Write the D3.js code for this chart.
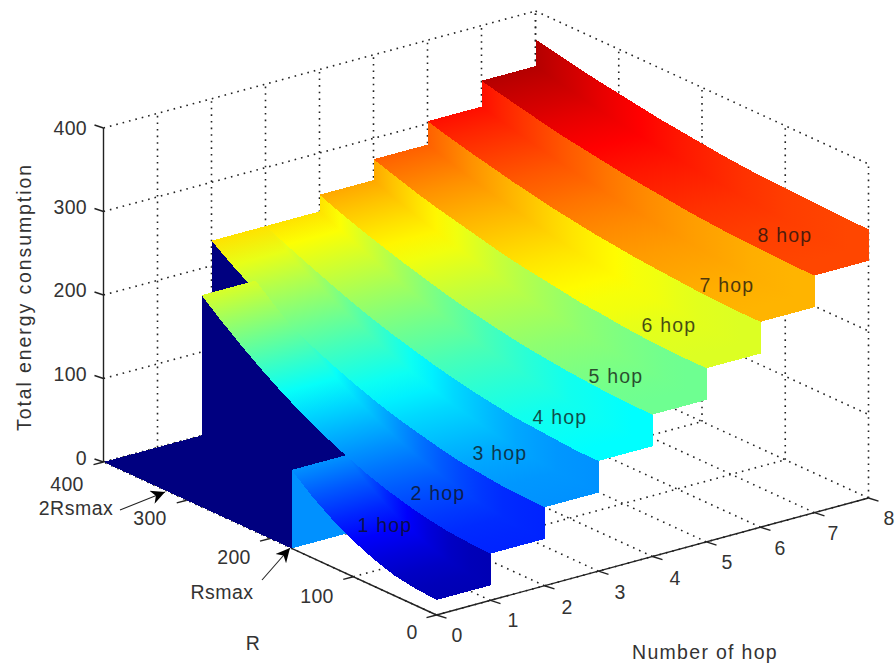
<!DOCTYPE html>
<html>
<head>
<meta charset="utf-8">
<script src="https://cdn.jsdelivr.net/npm/d3@7/dist/d3.min.js"></script>
<style>
html,body{margin:0;padding:0;background:#fff}
svg{display:block}
text{font-family:"Liberation Sans",Arial,sans-serif;font-size:19.5px;fill:#333}
</style>
</head>
<body>
<svg id="c" width="895" height="666"></svg>
<script>
// ---- data ----
const hopTicks = [0,1,2,3,4,5,6,7,8];
const rTicks = [0,100,200,300,400];
const zTicks = [0,100,200,300,400];
const zMaxColor = 352;
// R sample positions (174 = Rsmax and 347 = 2Rsmax are listed twice: the surface drops there)
const rGrid = [0,25,50,75,100,125,150,174,174,200,225,250,275,300,325,347,347,375,400];
const tier1 = [18,20,24,32,43,57,74,94,0,0,0,0,0,0,0,0,0,0,0];
const tier2 = [56,57,59,63,68.5,75.5,84,94,94,106,119,134,150.5,168.5,188,206.5,0,0,0];
const tier3 = [94,95,96,99,102,107,113,119,119,127,136,146,157,169,182,194,194,212,230];
const tier4 = [132,132,134,136,138,142,146,151,151,157,164,171,179,188,198,207,207,219,230];
const tier5 = [170,170,171,173,175,178,181,185,185,190,195,201,208,215,223,230,230,240,250];
const tier6 = [208,208,209,210,212,215,217,221,221,225,229,234,240,246,252,258,258,267,275];
const tier7 = [246,246,247,248,250,252,254,257,257,260,264,268,273,278,284,289,289,296,303];
const tier8 = [284,284,285,286,287,289,291,294,294,297,300,304,308,312,317,322,322,328,334];
const topEdge = [322,322,323,324,325,326,328,330,330,333,336,339,343,347,351,355,355,361,366];
const tiers = [tier1,tier2,tier3,tier4,tier5,tier6,tier7,tier8,topEdge];
const hopLabels = ["1 hop","2 hop","3 hop","4 hop","5 hop","6 hop","7 hop","8 hop"];

// ---- oblique projection built from linear scales ----
const hopX = d3.scaleLinear().domain([0,8]).range([0,432]);
const hopY = d3.scaleLinear().domain([0,8]).range([0,-117]);
const rX = d3.scaleLinear().domain([0,400]).range([0,-333]);
const rY = d3.scaleLinear().domain([0,400]).range([0,-153]);
const zY = d3.scaleLinear().domain([0,400]).range([0,-334]);
const ox = 436.5, oy = 615;
const P = (h,r,z)=>[ox+hopX(h)+rX(r), oy+hopY(h)+rY(r)+zY(z)];

function jet(v){
  v=Math.max(0,Math.min(1,v));
  const c=t=>Math.max(0,Math.min(1,t));
  const r=c(Math.min(4*v-1.5,-4*v+4.5));
  const g=c(Math.min(4*v-0.5,-4*v+3.5));
  const b=c(Math.min(4*v+0.5,-4*v+2.5));
  return d3.rgb(r*255,g*255,b*255).formatHex();
}
const svg=d3.select("#c");
const defs=svg.append("defs");
const line=d3.line();

// ---- dotted box grid ----
const gGrid=svg.append("g").attr("fill","none").attr("stroke","#222").attr("stroke-width",1.6).attr("stroke-dasharray","1.6 5");
const seg=(a,b)=>gGrid.append("path").attr("d",line([a,b]));
hopTicks.forEach(h=>{
  if(h>0) seg(P(h,400,0),P(h,400,400));   // back wall verticals
  seg(P(h,0,0),P(h,400,0));               // floor
});
rTicks.forEach(r=>{
  seg(P(8,r,0),P(8,r,400));               // right wall verticals
  seg(P(0,r,0),P(8,r,0));                 // floor
});
zTicks.forEach(z=>{
  if(z>0){ seg(P(0,400,z),P(8,400,z)); seg(P(8,400,z),P(8,0,z)); }
});

// ---- surface, painted from back to front ----
const gS=svg.append("g").attr("shape-rendering","crispEdges");
let gid=0;
function quad(pts,c0,c1){
  let fill=c0;
  if(c1 && c1!==c0){
    const [a,b,,d]=pts;
    const iso=[d[0]-a[0],d[1]-a[1]];
    const n=[-iso[1],iso[0]];
    const nn=n[0]*n[0]+n[1]*n[1];
    if(nn>1e-6){
      const t=((b[0]-a[0])*n[0]+(b[1]-a[1])*n[1])/nn;
      const id="g"+(gid++);
      const g=defs.append("linearGradient").attr("id",id).attr("gradientUnits","userSpaceOnUse")
        .attr("x1",a[0]).attr("y1",a[1]).attr("x2",a[0]+n[0]*t).attr("y2",a[1]+n[1]*t);
      g.append("stop").attr("offset",0).attr("stop-color",c0);
      g.append("stop").attr("offset",1).attr("stop-color",c1);
      fill="url(#"+id+")";
    }
  }
  gS.append("path").attr("d",line(pts)+"Z").attr("fill",fill);
}
for(let n=8;n>=1;n--){
  const low=tiers[n-1], high=tiers[n];
  for(let part=0;part<2;part++){
    for(let i=rGrid.length-2;i>=0;i--){
      const c0=jet(low[i]/zMaxColor);
      const c1=rGrid[i]===rGrid[i+1]?c0:jet(low[i+1]/zMaxColor);
      if(part===0) // step up at the far side of this tier
        quad([P(n,rGrid[i],low[i]),P(n,rGrid[i+1],low[i+1]),P(n,rGrid[i+1],high[i+1]),P(n,rGrid[i],high[i])],c0,c1);
      else         // the tier itself
        quad([P(n-1,rGrid[i],low[i]),P(n-1,rGrid[i+1],low[i+1]),P(n,rGrid[i+1],low[i+1]),P(n,rGrid[i],low[i])],c0,c1);
    }
  }
}

// ---- axes ----
const gA=svg.append("g").attr("fill","none").attr("stroke","#222").attr("stroke-width",1.4);
gA.append("path").attr("d",line([P(0,400,0),P(0,400,400)]));
gA.append("path").attr("d",line([P(0,0,0),P(8,0,0)]));
gA.append("path").attr("d",line([P(0,0,0),P(0,174,0)]));
zTicks.forEach(z=>{const p=P(0,400,z);gA.append("path").attr("d",line([p,[p[0]-9,p[1]-3]]));});
hopTicks.forEach(h=>{const p=P(h,0,0);gA.append("path").attr("d",line([p,[p[0]+10,p[1]+3.2]]));});
rTicks.forEach(r=>{const p=P(0,r,0);gA.append("path").attr("d",line([p,[p[0]-10,p[1]+2.6]]));});

// ---- tick labels ----
const T=(s,x,y,a="middle",sp=0.3)=>svg.append("text").attr("x",x).attr("y",y).attr("text-anchor",a).attr("dominant-baseline","central").style("letter-spacing",sp+"px").text(s);
const zLabelY=[458,374,290,207,128];
zTicks.forEach((z,i)=>T(z,87,zLabelY[i],"end"));
const rLabelPos=[[412,632],[317,596],[234,557],[150,518],[67,484]];
rTicks.forEach((r,i)=>T(r,rLabelPos[i][0],rLabelPos[i][1]));
const hopLabelPos=[[457,635],[513,620],[567,607],[620,592],[675,578],[727,562],[780,548],[833,533],[889,518]];
hopTicks.forEach((h,i)=>T(h,hopLabelPos[i][0],hopLabelPos[i][1]));

// ---- axis titles ----
T("R",253,643);
T("Number of hop",705,652,"middle",1.3);
svg.append("text").attr("transform","translate(24,297) rotate(-90)").attr("text-anchor","middle").attr("dominant-baseline","central").style("letter-spacing","1.9px").text("Total energy consumption");

// ---- hop labels on the surface ----
const hopPos=[[385,525],[438,493],[500,453],[560,417],[616,376],[669,325],[727,285],[785,235]];
hopLabels.forEach((s,i)=>T(s,hopPos[i][0],hopPos[i][1],"middle",1.2).style("fill","#111").style("opacity",0.75));

// ---- annotations ----
defs.append("marker").attr("id","ah").attr("viewBox","0 0 10 10").attr("refX",10).attr("refY",5)
  .attr("markerWidth",17).attr("markerHeight",14).attr("markerUnits","userSpaceOnUse").attr("orient","auto")
  .append("path").attr("d","M0,0L10,5L0,10L3,5Z").attr("fill","#000");
T("2Rsmax",76,508,"middle",0.5);
T("Rsmax",222,592,"middle",0.5);
const gN=svg.append("g").attr("fill","none").attr("stroke","#222").attr("stroke-width",1.1);
gN.append("path").attr("d",line([[120,510],[165,492]])).attr("marker-end","url(#ah)");
gN.append("path").attr("d",line([[262,580],[290,548]])).attr("marker-end","url(#ah)");
</script>
</body>
</html>
